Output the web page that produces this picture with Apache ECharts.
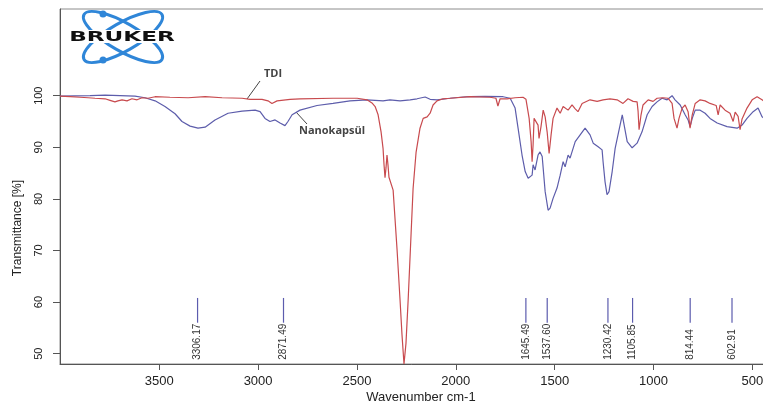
<!DOCTYPE html>
<html>
<head>
<meta charset="utf-8">
<script src="https://cdn.jsdelivr.net/npm/echarts@6/dist/echarts.min.js"></script>
<style>
  html, body { margin: 0; padding: 0; background: #fff; }
  #chart { width: 763px; height: 410px; }
</style>
</head>
<body>
<div id="chart"></div>
<script>
// FT-IR spectra: TDI and the nanocapsule product (transmittance vs wavenumber)
const tdiWavenumber = [4002, 3951, 3901, 3860, 3825, 3774, 3749, 3724, 3709, 3688, 3663, 3638, 3612, 3587, 3557, 3521, 3446, 3354, 3268, 3182, 3081, 3041, 2980, 2950, 2930, 2904, 2838, 2788, 2621, 2499, 2449, 2424, 2408, 2393, 2378, 2368, 2363, 2358, 2353, 2348, 2343, 2338, 2333, 2317, 2297, 2282, 2272, 2262, 2257, 2252, 2241, 2226, 2216, 2201, 2181, 2165, 2145, 2130, 2115, 2095, 2065, 2029, 1928, 1827, 1797, 1787, 1776, 1741, 1700, 1660, 1645, 1640, 1629, 1619, 1614, 1609, 1604, 1594, 1584, 1579, 1569, 1558, 1548, 1538, 1528, 1518, 1508, 1488, 1472, 1457, 1432, 1412, 1397, 1382, 1361, 1321, 1285, 1255, 1220, 1184, 1154, 1129, 1103, 1083, 1078, 1073, 1063, 1053, 1027, 1002, 982, 952, 926, 906, 896, 881, 871, 855, 840, 825, 815, 804, 789, 764, 739, 714, 683, 673, 663, 638, 613, 597, 587, 572, 562, 552, 527, 501, 476, 451, 436];
const tdiTransmittance = [99.9, 99.8, 99.7, 99.6, 99.5, 99.4, 99.1, 98.8, 99.0, 99.2, 99.0, 99.4, 99.2, 99.6, 99.5, 99.8, 99.7, 99.6, 99.8, 99.6, 99.5, 99.3, 99.3, 99.0, 98.5, 99.0, 99.3, 99.4, 99.5, 99.5, 99.2, 98.6, 97.9, 96.3, 93.0, 89.8, 86.6, 84.1, 86.0, 88.5, 86.6, 84.2, 84.3, 81.7, 70.1, 60.4, 53.6, 48.0, 48.0, 52.0, 60.4, 73.4, 82.0, 89.0, 93.7, 95.6, 95.9, 96.6, 98.2, 99.0, 99.4, 99.5, 99.8, 99.7, 99.5, 98.0, 99.4, 99.4, 99.6, 99.7, 99.3, 99.2, 95.6, 91.1, 87.2, 90.5, 95.6, 95.9, 94.3, 91.7, 94.0, 97.2, 95.9, 93.0, 88.8, 92.4, 95.6, 97.6, 96.6, 97.9, 97.2, 98.2, 97.5, 96.9, 98.5, 99.2, 98.9, 99.2, 99.4, 99.2, 98.5, 99.4, 98.9, 98.8, 97.0, 93.4, 96.3, 98.2, 99.2, 98.9, 99.5, 99.6, 99.5, 98.5, 95.6, 93.7, 95.6, 97.6, 98.2, 96.9, 93.7, 96.3, 98.5, 99.2, 99.0, 98.5, 98.1, 96.3, 98.2, 97.2, 96.6, 95.0, 96.8, 96.0, 93.4, 95.5, 97.6, 99.2, 99.8, 99.2, 98.8];

const nanoWavenumber = [4002, 3926, 3850, 3774, 3698, 3623, 3572, 3521, 3471, 3420, 3385, 3344, 3304, 3268, 3218, 3152, 3081, 3015, 2990, 2965, 2940, 2914, 2889, 2864, 2849, 2828, 2788, 2702, 2621, 2535, 2449, 2368, 2333, 2282, 2231, 2196, 2155, 2130, 2095, 2029, 1963, 1928, 1852, 1761, 1725, 1700, 1685, 1665, 1649, 1634, 1614, 1609, 1599, 1584, 1574, 1563, 1548, 1533, 1523, 1508, 1488, 1472, 1457, 1447, 1432, 1422, 1396, 1371, 1346, 1336, 1321, 1305, 1280, 1260, 1255, 1245, 1235, 1225, 1209, 1194, 1179, 1158, 1133, 1108, 1083, 1058, 1032, 1007, 982, 957, 931, 906, 891, 865, 840, 825, 815, 804, 789, 764, 739, 714, 678, 628, 577, 552, 527, 496, 471, 451, 436];
const nanoTransmittance = [99.9, 99.95, 100.0, 100.1, 100.0, 99.9, 99.6, 99.0, 97.9, 96.5, 95.0, 94.1, 93.7, 93.9, 95.3, 96.6, 97.0, 97.2, 96.9, 95.6, 95.0, 95.3, 94.7, 94.2, 95.0, 96.3, 97.2, 98.1, 98.5, 99.0, 99.2, 99.0, 99.2, 99.0, 99.2, 99.4, 99.75, 99.3, 99.2, 99.5, 99.75, 99.8, 99.85, 99.8, 99.5, 97.6, 93.7, 88.5, 85.3, 84.0, 84.6, 86.6, 85.6, 88.5, 89.1, 88.2, 81.4, 77.8, 78.2, 80.1, 82.1, 84.6, 87.2, 86.2, 88.5, 87.9, 91.1, 92.4, 93.7, 93.8, 92.4, 90.8, 90.1, 89.5, 87.2, 83.3, 80.8, 81.4, 85.3, 89.8, 92.5, 96.3, 91.1, 89.9, 90.8, 93.0, 96.3, 97.9, 98.8, 99.5, 99.2, 100.0, 99.2, 98.2, 96.3, 95.3, 94.0, 95.6, 97.2, 97.2, 96.6, 95.6, 94.7, 94.0, 93.7, 94.3, 95.6, 96.9, 97.6, 95.9, 95.5];

// Labelled absorption bands of the nanocapsule spectrum
const peakWavenumbers = [3306.17, 2871.49, 1645.49, 1537.60, 1230.42, 1105.85, 814.44, 602.91];
const peakLabels = ['3306.17', '2871.49', '1645.49', '1537.60', '1230.42', '1105.85', '814.44', '602.91'];

// Axis tick values
const xTickValues = [500, 1000, 1500, 2000, 2500, 3000, 3500];
const yTickValues = [50, 60, 70, 80, 90, 100];

const zip = (xs, ys) => xs.map((x, i) => [x, ys[i]]);

const chart = echarts.init(document.getElementById('chart'), null, { renderer: 'canvas' });

const axisColor = '#555';
const tickFont = 'Liberation Sans, Arial, sans-serif';

const option = {
  animation: false,
  backgroundColor: '#ffffff',
  grid: {
    left: 60, top: 9, width: 705, height: 355,
    outerBoundsMode: 'none', containLabel: false,
    show: true, borderColor: '#8c8c8c', borderWidth: 1, backgroundColor: 'transparent'
  },
  xAxis: {
    type: 'value', inverse: true, min: 436, max: 4002,
    axisLine: { show: true, onZero: false, lineStyle: { color: axisColor, width: 1 } },
    axisTick: { show: true, length: 6, customValues: xTickValues, lineStyle: { color: axisColor } },
    axisLabel: { customValues: xTickValues, formatter: v => String(v), color: '#222', fontSize: 13, margin: 11, fontFamily: tickFont },
    splitLine: { show: false }
  },
  yAxis: {
    type: 'value', min: 48, max: 116.8,
    axisLine: { show: true, onZero: false, lineStyle: { color: axisColor, width: 1 } },
    axisTick: { show: true, length: 7, customValues: yTickValues, lineStyle: { color: axisColor } },
    axisLabel: { customValues: yTickValues, formatter: v => String(v), rotate: 90, color: '#222', fontSize: 11, margin: 16, fontFamily: tickFont },
    splitLine: { show: false }
  },
  series: [
    {
      name: 'Nanokapsül', type: 'line', data: zip(nanoWavenumber, nanoTransmittance),
      showSymbol: false, clip: true,
      lineStyle: { color: '#5d5dab', width: 1.2 }
    },
    {
      name: 'TDI', type: 'line', data: zip(tdiWavenumber, tdiTransmittance),
      showSymbol: false, clip: true,
      lineStyle: { color: '#c84a4e', width: 1.2 }
    },
    {
      name: 'peaks', type: 'custom',
      data: peakWavenumbers.map(w => [w, 56]),
      encode: { x: 0, y: 1 },
      clip: false,
      renderItem: (params, api) => {
        const w = api.value(0);
        const top = api.coord([w, 60.8]);
        const bot = api.coord([w, 56.0]);
        const lab = api.coord([w, 48.8]);
        return {
          type: 'group',
          children: [
            { type: 'line', shape: { x1: top[0], y1: top[1], x2: bot[0], y2: bot[1] },
              style: { stroke: '#5c5cae', lineWidth: 1.2 } },
            { type: 'text', x: lab[0], y: lab[1], rotation: Math.PI / 2,
              style: { text: peakLabels[params.dataIndex], fontSize: 10, fill: '#333',
                       align: 'left', verticalAlign: 'middle', fontFamily: tickFont } }
          ]
        };
      }
    }
  ],
  graphic: [
    // axis titles
    { type: 'text', x: 18, y: 228, rotation: Math.PI / 2,
      style: { text: 'Transmittance [%]', fontSize: 12, fill: '#222', align: 'center', verticalAlign: 'middle', fontFamily: tickFont } },
    { type: 'text', x: 421, y: 397,
      style: { text: 'Wavenumber cm-1', fontSize: 13, fill: '#222', align: 'center', verticalAlign: 'middle', fontFamily: tickFont } },
    // curve captions with leader lines
    { type: 'text', x: 273, y: 74,
      style: { text: 'TDI', fontSize: 11, fontWeight: 'bold', fill: '#444', align: 'center', verticalAlign: 'middle', fontFamily: 'Open Sans, sans-serif' } },
    { type: 'line', shape: { x1: 260, y1: 81, x2: 247, y2: 99 }, style: { stroke: '#444', lineWidth: 1 } },
    { type: 'text', x: 332, y: 131,
      style: { text: 'Nanokapsül', fontSize: 11, fontWeight: 'bold', fill: '#444', align: 'center', verticalAlign: 'middle', fontFamily: 'Open Sans, sans-serif' } },
    { type: 'line', shape: { x1: 296, y1: 112, x2: 307, y2: 124 }, style: { stroke: '#444', lineWidth: 1 } },
    // instrument logo
    {
      type: 'group', x: 123, y: 37,
      children: [
        { type: 'ellipse', shape: { cx: 0, cy: 0, rx: 45, ry: 14 }, rotation: Math.PI / 6,
          style: { fill: 'none', stroke: '#2f86d8', lineWidth: 3 } },
        { type: 'ellipse', shape: { cx: 0, cy: 0, rx: 45, ry: 14 }, rotation: -Math.PI / 6,
          style: { fill: 'none', stroke: '#2f86d8', lineWidth: 3 } },
        { type: 'circle', shape: { cx: -20, cy: -23, r: 3.5 }, style: { fill: '#2f86d8' } },
        { type: 'circle', shape: { cx: -20, cy: 23, r: 3.5 }, style: { fill: '#2f86d8' } },
        { type: 'rect', shape: { x: -60, y: -7, width: 119, height: 13 }, style: { fill: '#fff' } },
        { type: 'text', x: -1, y: 0, scaleX: 1.65,
          style: { text: 'BRUKER', fontSize: 14, fontWeight: 900, fill: '#111', align: 'center', verticalAlign: 'middle', fontFamily: 'DejaVu Sans, sans-serif' } }
      ]
    }
  ]
};

chart.setOption(option);
</script>
</body>
</html>
